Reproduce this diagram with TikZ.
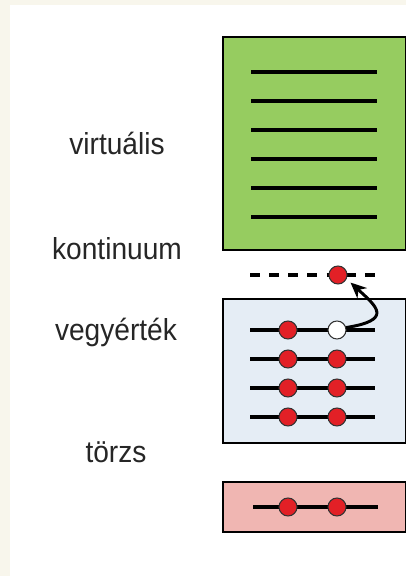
\documentclass[tikz,border=0pt]{standalone}
\usepackage{fontspec}
\setmainfont{Liberation Sans}
\usetikzlibrary{arrows.meta}
\definecolor{cream}{RGB}{248,246,236}
\definecolor{virtgreen}{RGB}{150,204,96}
\definecolor{valblue}{RGB}{229,237,245}
\definecolor{corepink}{RGB}{240,182,178}
\definecolor{elred}{RGB}{226,32,38}
\begin{document}
\begin{tikzpicture}
    \tikzset {
        band/.style = {draw=black, line width=0.8pt},
        level line/.style = {line width=2pt},
        electron/.style = {circle, draw=black!80, line width=0.6pt, fill=elred,
                           minimum size=0.36cm, inner sep=0pt},
        hole/.style = {electron, fill=white},
        label/.style = {anchor=base, text=black!85, font=\fontsize{16}{19}\selectfont,
                        yscale=1.08}
    }
    % background
    \fill[cream] (0,0) rectangle (8.12,11.52);
    \fill[white] (0.2,0) rectangle (8.12,11.42);
    \useasboundingbox (0,0) rectangle (8.12,11.52);

    % bands
    \filldraw[band, fill=virtgreen] (4.46,6.52) rectangle (8.11,10.78);
    \filldraw[band, fill=valblue] (4.46,2.66) rectangle (8.11,5.54);
    \filldraw[band, fill=corepink] (4.46,0.88) rectangle (8.11,1.88);

    % virtual levels
    \foreach \i in {0,...,5}
        \draw[level line] (5.02,10.08-0.58*\i) -- (7.54,10.08-0.58*\i);

    % continuum
    \draw[level line, dash pattern=on 0.2cm off 0.1833cm] (5.0,6.02) -- (7.5,6.02);
    \node[electron] (cont) at (6.76,6.02) {};

    % valence levels
    \foreach \i in {0,...,3}
        \draw[level line] (5.0,4.92-0.58*\i) -- (7.5,4.92-0.58*\i);
    \node[electron] (val0a) at (5.76,4.92) {};
    \node[hole] (val0b) at (6.74,4.92) {};
    \foreach \i in {1,...,3} {
        \node[electron] (val\i a) at (5.76,4.92-0.58*\i) {};
        \node[electron] (val\i b) at (6.74,4.92-0.58*\i) {};
    }

    % core level
    \draw[level line] (5.06,1.38) -- (7.56,1.38);
    \node[electron] (core1) at (5.76,1.38) {};
    \node[electron] (core2) at (6.74,1.38) {};

    % excitation
    \draw[line width=1.7pt, -{Stealth[length=9pt,width=8pt]}, shorten >=3pt]
        (val0b.15) .. controls +(0.95,0.15) and +(0.6,-0.55) .. (cont.-25);

    % labels
    \node[label] (lvirt) at (2.34,8.42) {virtuális};
    \node[label] (lcont) at (2.34,6.32) {kontinuum};
    \node[label] (lval) at (2.32,4.70) {vegyérték};
    \node[label] (lcore) at (2.32,2.26) {törzs};
\end{tikzpicture}
\end{document}
